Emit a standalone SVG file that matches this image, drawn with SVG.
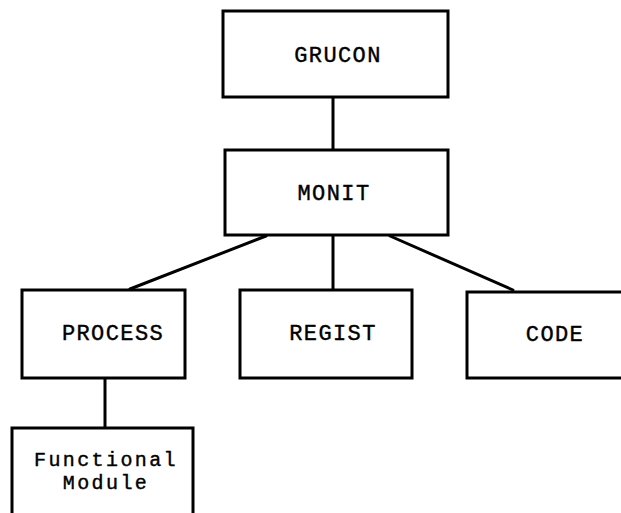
<svg xmlns="http://www.w3.org/2000/svg" width="621" height="513" viewBox="0 0 621 513">
  <style>
    .box { fill: #ffffff; stroke: #000000; stroke-width: 3; }
    .edge { stroke: #000000; stroke-width: 3; fill: none; stroke-linecap: round; }
    .lbl { font-family: "Liberation Mono", "DejaVu Sans Mono", monospace; font-size: 22px; letter-spacing: 1.4px; text-anchor: middle; fill: #000000; stroke: #000000; stroke-width: 0.4px; }
    .lbl2 { font-size: 20px; letter-spacing: 2.4px; }
  </style>
  <rect width="621" height="513" fill="#ffffff"/>
  <g id="connectors">
    <line class="edge" x1="333" y1="97" x2="333" y2="150"/>
    <line class="edge" x1="266" y1="236" x2="130" y2="289"/>
    <line class="edge" x1="333" y1="236" x2="333" y2="290"/>
    <line class="edge" x1="390" y1="236" x2="513" y2="290"/>
    <line class="edge" x1="105" y1="378" x2="105" y2="428"/>
  </g>
  <g id="grucon">
    <rect class="box" x="223" y="11" width="225" height="86"/>
    <text class="lbl" x="338" y="62">GRUCON</text>
  </g>
  <g id="monit">
    <rect class="box" x="225" y="150" width="223" height="85"/>
    <text class="lbl" x="334" y="200">MONIT</text>
  </g>
  <g id="process">
    <rect class="box" x="22" y="290" width="163" height="88"/>
    <text class="lbl" x="113" y="340">PROCESS</text>
  </g>
  <g id="regist">
    <rect class="box" x="240" y="290" width="172" height="88"/>
    <text class="lbl" x="333" y="340">REGIST</text>
  </g>
  <g id="code">
    <rect class="box" x="467" y="292" width="160" height="86"/>
    <text class="lbl" x="555" y="341">CODE</text>
  </g>
  <g id="functional-module">
    <path class="box" d="M12 520 V428 H193 V520"/>
    <text class="lbl lbl2" x="106" y="466">Functional</text>
    <text class="lbl lbl2" x="106" y="489">Module</text>
  </g>
</svg>
